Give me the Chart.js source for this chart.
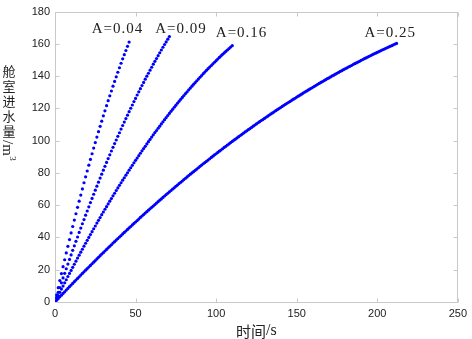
<!DOCTYPE html>
<html>
<head>
<meta charset="utf-8">
<script src="https://cdn.jsdelivr.net/npm/chart.js@4/dist/chart.umd.min.js"></script>
<style>
    body { margin: 0; background: #fff; }
    #wrap { width: 472px; height: 339px; }
</style>
</head>
<body>
<div id="wrap"><canvas id="floodChart" width="472" height="339"></canvas></div>
<script>
// simulation output is sampled once per second
const sampleStep = 1;

const seriesNames = ['A=0.04', 'A=0.09', 'A=0.16', 'A=0.25'];

// flooded volume in m^3, one value per sample starting at t = 0
const volA004 = [0, 4.5, 8.9, 13.3, 17.6, 21.9, 26.2, 30.4, 34.5, 38.7, 42.8, 46.8, 50.8, 54.7, 58.7, 62.5,
    66.3, 70.1, 73.9, 77.6, 81.2, 84.8, 88.4, 91.9, 95.4, 98.8, 102.2, 105.6, 108.9, 112.1, 115.4, 118.5,
    121.7, 124.8, 127.8, 130.8, 133.8, 136.7, 139.6, 142.4, 145.2, 148.0, 150.7, 153.3, 155.9, 158.5, 161.1];

const volA009 = [0, 3.0, 6.0, 9.0, 11.9, 14.9, 17.8, 20.6, 23.5, 26.4, 29.2, 32.0, 34.8, 37.6, 40.3, 43.1,
    45.8, 48.5, 51.1, 53.8, 56.4, 59.0, 61.6, 64.2, 66.8, 69.3, 71.8, 74.3, 76.8, 79.2, 81.7, 84.1,
    86.5, 88.9, 91.2, 93.6, 95.9, 98.2, 100.4, 102.7, 104.9, 107.2, 109.4, 111.5, 113.7, 115.8, 118.0, 120.1,
    122.1, 124.2, 126.2, 128.3, 130.3, 132.2, 134.2, 136.1, 138.1, 140.0, 141.8, 143.7, 145.5, 147.4,
    149.2, 150.9, 152.7, 154.5, 156.2, 157.9, 159.6, 161.2, 162.9, 164.5];

const volA016 = [0, 2.0, 4.0, 6.0, 8.0, 9.9, 11.9, 13.8, 15.8, 17.7, 19.6, 21.5, 23.4, 25.3, 27.2, 29.0,
    30.9, 32.7, 34.6, 36.4, 38.2, 40.0, 41.8, 43.6, 45.4, 47.1, 48.9, 50.6, 52.3, 54.1, 55.8, 57.5,
    59.1, 60.8, 62.5, 64.1, 65.8, 67.4, 69.1, 70.7, 72.3, 73.9, 75.5, 77.0, 78.6, 80.1, 81.7, 83.2,
    84.7, 86.3, 87.8, 89.2, 90.7, 92.2, 93.7, 95.1, 96.5, 98.0, 99.4, 100.8, 102.2, 103.6, 105.0, 106.3,
    107.7, 109.0, 110.4, 111.7, 113.0, 114.3, 115.6, 116.9, 118.2, 119.4, 120.7, 121.9, 123.2, 124.4,
    125.6, 126.8, 128.0, 129.2, 130.3, 131.5, 132.6, 133.8, 134.9, 136.0, 137.1, 138.2, 139.3, 140.4,
    141.5, 142.5, 143.6, 144.6, 145.6, 146.6, 147.6, 148.6, 149.6, 150.6, 151.6, 152.5, 153.5, 154.4,
    155.3, 156.2, 157.1, 158.0, 158.9];

const volA025 = [0, 1.1, 2.1, 3.2, 4.2, 5.3, 6.3, 7.4, 8.4, 9.5, 10.5, 11.5, 12.6, 13.6, 14.6, 15.6,
    16.7, 17.7, 18.7, 19.7, 20.7, 21.7, 22.7, 23.7, 24.7, 25.7, 26.7, 27.7, 28.7, 29.7, 30.6, 31.6,
    32.6, 33.6, 34.5, 35.5, 36.5, 37.4, 38.4, 39.3, 40.3, 41.2, 42.2, 43.1, 44.0, 45.0, 45.9, 46.8,
    47.8, 48.7, 49.6, 50.5, 51.4, 52.4, 53.3, 54.2, 55.1, 56.0, 56.9, 57.8, 58.7, 59.5, 60.4, 61.3,
    62.2, 63.1, 63.9, 64.8, 65.7, 66.6, 67.4, 68.3, 69.1, 70.0, 70.8, 71.7, 72.5, 73.4, 74.2, 75.0,
    75.9, 76.7, 77.5, 78.4, 79.2, 80.0, 80.8, 81.6, 82.4, 83.2, 84.1, 84.9, 85.7, 86.4, 87.2, 88.0,
    88.8, 89.6, 90.4, 91.2, 91.9, 92.7, 93.5, 94.2, 95.0, 95.8, 96.5, 97.3, 98.0, 98.8, 99.5, 100.3,
    101.0, 101.7, 102.5, 103.2, 103.9, 104.7, 105.4, 106.1, 106.8, 107.5, 108.2, 109.0, 109.7, 110.4,
    111.1, 111.8, 112.5, 113.1, 113.8, 114.5, 115.2, 115.9, 116.6, 117.2, 117.9, 118.6, 119.2, 119.9,
    120.5, 121.2, 121.9, 122.5, 123.2, 123.8, 124.4, 125.1, 125.7, 126.3, 127.0, 127.6, 128.2, 128.8,
    129.5, 130.1, 130.7, 131.3, 131.9, 132.5, 133.1, 133.7, 134.3, 134.9, 135.5, 136.1, 136.6, 137.2,
    137.8, 138.4, 138.9, 139.5, 140.1, 140.6, 141.2, 141.8, 142.3, 142.9, 143.4, 144.0, 144.5, 145.0,
    145.6, 146.1, 146.6, 147.2, 147.7, 148.2, 148.7, 149.2, 149.8, 150.3, 150.8, 151.3, 151.8, 152.3,
    152.8, 153.3, 153.8, 154.2, 154.7, 155.2, 155.7, 156.2, 156.6, 157.1, 157.6, 158.0, 158.5, 158.9,
    159.4, 159.9, 160.3];

const xTicks = [0, 50, 100, 150, 200, 250];
const yTicks = [0, 20, 40, 60, 80, 100, 120, 140, 160, 180];

// curve captions, placed in data units (t, V)
const captionX = [38.8, 78.2, 115.8, 208.1];
const captionY = [168.9, 168.9, 166.5, 166.5];

const yTitleChars = ['舱', '室', '进', '水', '量'];
const xTitleText = '时间';

function toPoints(vals) {
    return vals.map((v, i) => ({ x: i * sampleStep, y: v }));
}

const matlabFrame = {
    id: 'matlabFrame',
    beforeDatasetsDraw(chart) {
        const { ctx, chartArea: a, scales } = chart;
        const L = Math.round(a.left) + 0.5, R = Math.round(a.right) - 0.5;
        const T = Math.round(a.top) + 0.5, B = Math.round(a.bottom) + 0.5;
        ctx.save();
        ctx.strokeStyle = '#c9c9c9';
        ctx.lineWidth = 1;
        ctx.beginPath();
        ctx.moveTo(L, T); ctx.lineTo(R, T); ctx.lineTo(R, B); ctx.lineTo(L, B); ctx.closePath();
        xTicks.forEach(v => {
            const px = Math.round(scales.x.getPixelForValue(v)) + 0.5;
            ctx.moveTo(px, B); ctx.lineTo(px, B - 4);
            ctx.moveTo(px, T); ctx.lineTo(px, T + 4);
        });
        yTicks.forEach(v => {
            const py = Math.round(scales.y.getPixelForValue(v)) + 0.5;
            ctx.moveTo(L, py); ctx.lineTo(L + 4, py);
            ctx.moveTo(R, py); ctx.lineTo(R - 4, py);
        });
        ctx.stroke();
        ctx.restore();
    },
    afterDraw(chart) {
        const { ctx, scales } = chart;
        ctx.save();
        ctx.fillStyle = '#222';

        // curve captions
        ctx.font = '15px "Liberation Serif"';
        ctx.letterSpacing = '1px';
        ctx.textAlign = 'center';
        ctx.textBaseline = 'middle';
        seriesNames.forEach((name, i) => {
            ctx.fillText(name, scales.x.getPixelForValue(captionX[i]), scales.y.getPixelForValue(captionY[i]));
        });
        ctx.letterSpacing = '0px';

        // stacked y title: upright characters, then the unit turned on its side
        ctx.font = '13px "Noto Sans CJK SC"';
        yTitleChars.forEach((c, i) => ctx.fillText(c, 9, 71 + i * 15));
        ctx.save();
        ctx.translate(3, 140);
        ctx.rotate(Math.PI / 2);
        ctx.textAlign = 'left';
        ctx.textBaseline = 'alphabetic';
        ctx.font = '15px "Liberation Serif"';
        ctx.fillText('/m', 0, 0);
        const w = ctx.measureText('/m').width;
        ctx.font = '9px "Liberation Serif"';
        ctx.fillText('3', w + 0.5, -7);
        ctx.restore();

        // x title
        const cx = (chart.chartArea.left + chart.chartArea.right) / 2;
        ctx.textBaseline = 'middle';
        ctx.textAlign = 'left';
        ctx.font = '15px "Noto Sans CJK SC"';
        const w1 = ctx.measureText(xTitleText).width;
        ctx.font = '16px "Liberation Serif"';
        const w2 = ctx.measureText('/s').width;
        const x0 = cx - (w1 + w2) / 2;
        ctx.font = '15px "Noto Sans CJK SC"';
        ctx.fillText(xTitleText, x0, 331);
        ctx.font = '16px "Liberation Serif"';
        ctx.fillText('/s', x0 + w1, 331);
        ctx.restore();
    }
};

const volumes = [volA004, volA009, volA016, volA025];
const tickFont = { family: 'Liberation Sans', size: 11 };

new Chart(document.getElementById('floodChart'), {
    type: 'scatter',
    data: {
        datasets: volumes.map((vals, i) => ({
            label: seriesNames[i],
            data: toPoints(vals),
            showLine: false,
            pointRadius: 1.6,
            pointBorderWidth: 0,
            pointBackgroundColor: '#0000ff',
            pointBorderColor: '#0000ff'
        }))
    },
    options: {
        responsive: false,
        animation: false,
        layout: { padding: { top: 7, right: 11, left: 0, bottom: 0 } },
        plugins: { legend: { display: false }, tooltip: { enabled: false } },
        scales: {
            x: {
                type: 'linear',
                min: 0,
                max: 250,
                afterBuildTicks: s => { s.ticks = xTicks.map(v => ({ value: v })); },
                afterFit: s => { s.height = 37; },
                ticks: { font: tickFont, color: '#222', padding: 5, maxRotation: 0 },
                grid: { display: false, drawTicks: false },
                border: { display: false }
            },
            y: {
                type: 'linear',
                min: 0,
                max: 180,
                afterBuildTicks: s => { s.ticks = yTicks.map(v => ({ value: v })); },
                afterFit: s => { s.width = 55; },
                ticks: { font: tickFont, color: '#222', padding: 5 },
                grid: { display: false, drawTicks: false },
                border: { display: false }
            }
        }
    },
    plugins: [matlabFrame]
});
</script>
</body>
</html>
